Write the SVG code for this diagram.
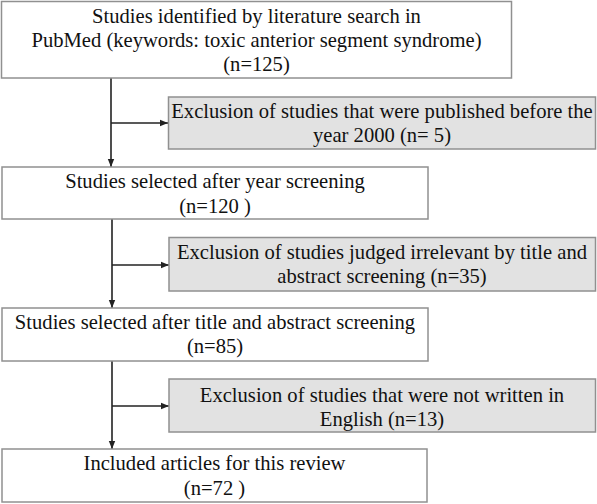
<svg xmlns="http://www.w3.org/2000/svg" width="597" height="504" viewBox="0 0 597 504">
<defs>
<marker id="ah" viewBox="0 0 8 8" refX="8" refY="4" markerWidth="8" markerHeight="8" markerUnits="userSpaceOnUse" orient="auto">
<path d="M0,0.8 L8,4 L0,7.2 z" fill="#222"/>
</marker>
</defs>
<style>
.box{fill:#fff;stroke:#909090;stroke-width:1.5}
.exc{fill:#e2e2e2;stroke:#909090;stroke-width:1.5}
.t{font-size:20.6px;fill:#111;text-anchor:middle}
.ln{fill:none;stroke:#222;stroke-width:1.6}
</style>
<rect width="597" height="504" fill="#fff"/>
<g id="connectors">
<line class="ln" x1="111" y1="78" x2="111" y2="167" marker-end="url(#ah)"/>
<line class="ln" x1="111" y1="123" x2="168" y2="123" marker-end="url(#ah)"/>
<line class="ln" x1="112" y1="219" x2="112" y2="308" marker-end="url(#ah)"/>
<line class="ln" x1="112" y1="265" x2="169" y2="265" marker-end="url(#ah)"/>
<line class="ln" x1="112" y1="361" x2="112" y2="449" marker-end="url(#ah)"/>
<line class="ln" x1="112" y1="406" x2="169" y2="406" marker-end="url(#ah)"/>
</g>
<g font-family="'Liberation Serif', 'Times New Roman', serif">
<g id="n1">
<rect class="box" x="1.5" y="1.5" width="510" height="76.5"/>
<text class="t" x="256.5" y="23">Studies identified by literature search in</text>
<text class="t" x="256.5" y="47">PubMed (keywords: toxic anterior segment syndrome)</text>
<text class="t" x="256.5" y="71">(n=125)</text>
</g>
<g id="e1">
<rect class="exc" x="168.5" y="97" width="427" height="52"/>
<text class="t" x="382" y="118">Exclusion of studies that were published before the</text>
<text class="t" x="382" y="142">year 2000 (n= 5)</text>
</g>
<g id="n2">
<rect class="box" x="2" y="167" width="426" height="52"/>
<text class="t" x="215" y="188">Studies selected after year screening</text>
<text class="t" x="215" y="213">(n=120 )</text>
</g>
<g id="e2">
<rect class="exc" x="169" y="237.5" width="426.5" height="53.5"/>
<text class="t" x="382" y="259">Exclusion of studies judged irrelevant by title and</text>
<text class="t" x="382" y="283">abstract screening (n=35)</text>
</g>
<g id="n3">
<rect class="box" x="2" y="308" width="426" height="53"/>
<text class="t" x="215" y="329">Studies selected after title and abstract screening</text>
<text class="t" x="215" y="353">(n=85)</text>
</g>
<g id="e3">
<rect class="exc" x="169" y="379" width="426.5" height="53"/>
<text class="t" x="382" y="402">Exclusion of studies that were not written in</text>
<text class="t" x="382" y="426">English (n=13)</text>
</g>
<g id="n4">
<rect class="box" x="2" y="449" width="425" height="53"/>
<text class="t" x="214.5" y="470">Included articles for this review</text>
<text class="t" x="214.5" y="495">(n=72 )</text>
</g>
</g>
</svg>
